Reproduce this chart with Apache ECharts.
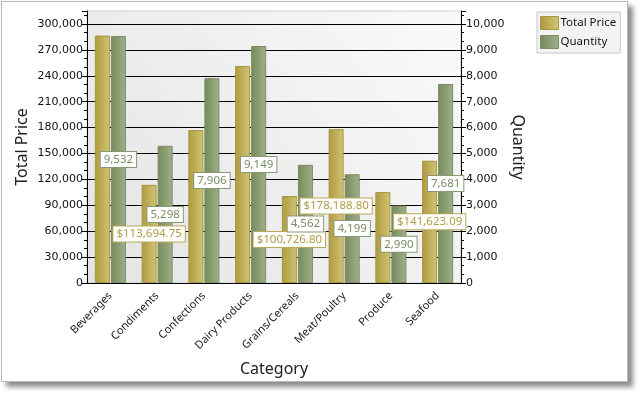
<!DOCTYPE html>
<html>
<head>
<meta charset="utf-8">
<script src="https://cdn.jsdelivr.net/npm/echarts@6/dist/echarts.min.js"></script>
<style>
  html, body { margin: 0; padding: 0; background: #fff; }
  .card {
    position: absolute; left: 1px; top: 1px;
    width: 625px; height: 379px;
    border: 1px solid #b9b9b9;
    background: #fff;
    box-shadow: 5px 5px 5px rgba(0, 0, 0, 0.45);
  }
  #main { position: absolute; left: 0; top: 0; width: 643px; height: 398px; }
</style>
</head>
<body>
<div class="card"></div>
<div id="main"></div>
<script>
// category data
const categories = ['Beverages', 'Condiments', 'Confections', 'Dairy Products',
  'Grains/Cereals', 'Meat/Poultry', 'Produce', 'Seafood'];
const totalPrice = [286526.95, 113694.75, 177099.10, 251330.50, 100726.80, 178188.80, 105268.60, 141623.09];
const quantity = [9532, 5298, 7906, 9149, 4562, 4199, 2990, 7681];
// price labels the original hides because they overlap
const hiddenPriceLabels = ['Beverages', 'Confections', 'Dairy Products', 'Produce'];

const font = 'Noto Sans';
const tickFont = 'DejaVu Sans';
const gold = new echarts.graphic.LinearGradient(0, 0, 1, 0, [
  { offset: 0, color: '#ae9a40' }, { offset: 1, color: '#d2c474' }]);
const green = new echarts.graphic.LinearGradient(0, 0, 1, 0, [
  { offset: 0, color: '#758a5a' }, { offset: 1, color: '#a0b18a' }]);

function fmt(v) { return v.toLocaleString('en-US'); }
function money(v) {
  return '$' + v.toLocaleString('en-US', { minimumFractionDigits: 2, maximumFractionDigits: 2 });
}

const chart = echarts.init(document.getElementById('main'));
chart.setOption({
  animation: false,
  textStyle: { fontFamily: font },
  legend: {
    orient: 'vertical',
    left: 537, top: 12,
    padding: [4, 4, 4, 3],
    itemWidth: 18, itemHeight: 13, itemGap: 5,
    backgroundColor: '#f3f3f3',
    borderColor: '#c8c8c8', borderWidth: 1,
    textStyle: { fontFamily: font, fontSize: 11.5, color: '#111', padding: [0, 0, 0, -3] },
    data: [
      { name: 'Total Price', icon: 'rect', itemStyle: { borderColor: '#a89640', borderWidth: 1 } },
      { name: 'Quantity', icon: 'rect', itemStyle: { borderColor: '#7b8b63', borderWidth: 1 } }
    ]
  },
  grid: {
    left: 87, right: 182, top: 11, bottom: 115,
    show: true,
    borderColor: '#cfcfcf', borderWidth: 1,
    backgroundColor: new echarts.graphic.LinearGradient(1, 0, 0, 1, [
      { offset: 0, color: '#fafafa' }, { offset: 1, color: '#e4e4e4' }])
  },
  xAxis: {
    type: 'category',
    data: categories,
    name: 'Category',
    nameLocation: 'middle',
    nameGap: 78,
    nameMoveOverlap: false,
    nameTextStyle: { fontFamily: font, fontSize: 16, color: '#222' },
    axisLine: { lineStyle: { color: '#000' } },
    axisTick: { alignWithLabel: true, length: 5, lineStyle: { color: '#000' } },
    axisLabel: { rotate: 45, margin: 11, fontSize: 11, color: '#222', fontFamily: font }
  },
  yAxis: [
    {
      type: 'value',
      min: 0, max: 315000, interval: 30000,
      name: 'Total Price',
      nameLocation: 'middle',
      nameGap: 57,
      nameMoveOverlap: false,
      nameTextStyle: { fontFamily: font, fontSize: 16, color: '#222' },
      axisLine: { show: true, lineStyle: { color: '#000' } },
      axisTick: { show: true, length: 5, lineStyle: { color: '#000' } },
      minorTick: { show: true, splitNumber: 3, length: 3, lineStyle: { color: '#000' } },
      axisLabel: { fontFamily: tickFont, fontSize: 11, color: '#111', margin: 4, showMaxLabel: false, formatter: fmt },
      splitLine: { show: true, showMaxLine: false, lineStyle: { color: '#000', width: 1 } }
    },
    {
      type: 'value',
      min: 0, max: 10500, interval: 1000,
      name: 'Quantity',
      nameLocation: 'middle',
      nameGap: 49,
      nameRotate: -90,
      nameMoveOverlap: false,
      nameTextStyle: { fontFamily: font, fontSize: 16, color: '#222' },
      axisLine: { show: true, lineStyle: { color: '#000' } },
      axisTick: { show: true, length: 5, lineStyle: { color: '#000' } },
      minorTick: { show: true, splitNumber: 3, length: 3, lineStyle: { color: '#000' } },
      axisLabel: { fontFamily: tickFont, fontSize: 11, color: '#111', margin: 5, showMaxLabel: false, formatter: fmt },
      splitLine: { show: false }
    }
  ],
  series: [
    {
      name: 'Total Price',
      type: 'bar',
      yAxisIndex: 0,
      barWidth: 15,
      barGap: '7%',
      itemStyle: { color: gold, borderColor: '#a89640', borderWidth: 1 },
      label: {
        show: true, position: 'inside',
        formatter: p => money(p.value),
        fontFamily: font, fontSize: 11.5, color: '#b09c48',
        backgroundColor: '#fff', borderColor: '#bba857', borderWidth: 1,
        padding: [1, 3], lineHeight: 13
      },
      data: totalPrice.map((v, i) => ({
        value: v,
        label: { show: !hiddenPriceLabels.includes(categories[i]) }
      }))
    },
    {
      name: 'Quantity',
      type: 'bar',
      yAxisIndex: 1,
      barWidth: 15,
      itemStyle: { color: green, borderColor: '#7b8b63', borderWidth: 1 },
      label: {
        show: true, position: 'inside',
        formatter: p => fmt(p.value),
        fontFamily: font, fontSize: 11.5, color: '#7a8b64',
        backgroundColor: '#fff', borderColor: '#879872', borderWidth: 1,
        padding: [1, 3], lineHeight: 13
      },
      data: quantity
    }
  ]
});
</script>
</body>
</html>
